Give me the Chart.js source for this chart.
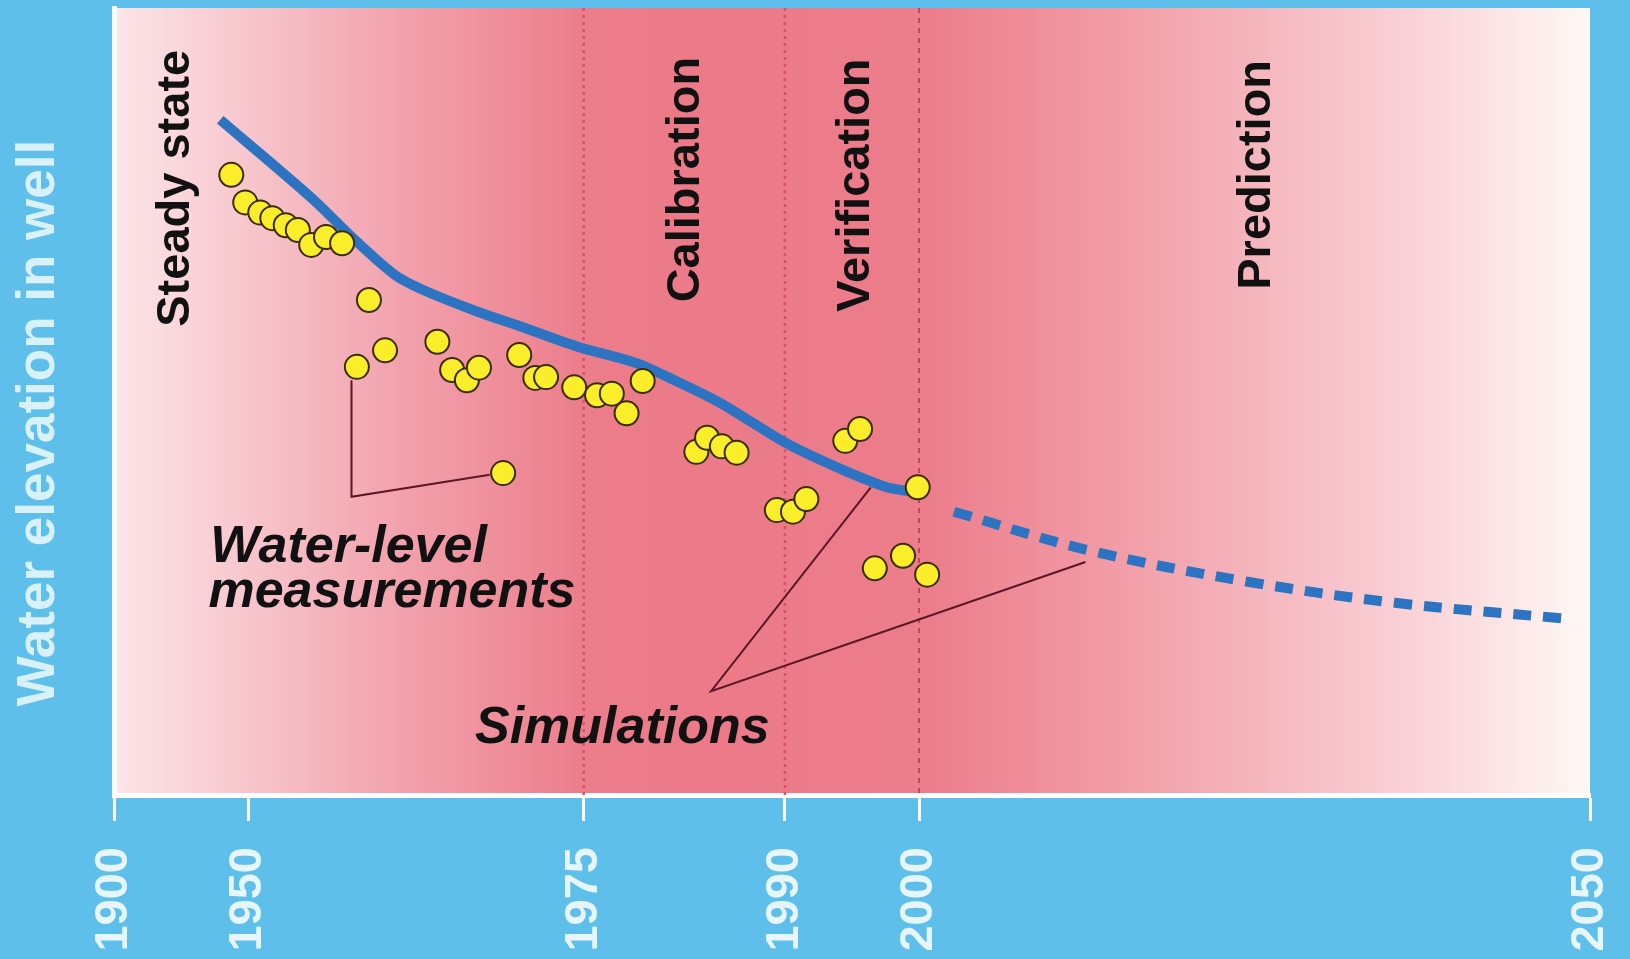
<!DOCTYPE html>
<html>
<head>
<meta charset="utf-8">
<script src="https://cdn.jsdelivr.net/npm/chart.js@4.4.1/dist/chart.umd.min.js"></script>
<style>
  html, body { margin: 0; padding: 0; background: #5EBFEA; }
  #wrap { width: 1630px; height: 959px; }
</style>
</head>
<body>
<div id="wrap"><canvas id="chart"></canvas></div>
<script>
// ------------------------------------------------------------
//  Data (years, relative water elevation 0-100)
// ------------------------------------------------------------
const tickYears = [1900, 1950, 1975, 1990, 2000, 2050];
const phaseYears = [1975, 1990, 2000];

const measYears = [1943.7, 1948.9, 1950.9, 1951.8, 1952.8, 1953.7, 1954.7, 1955.8, 1957.0,
    1959.0, 1958.1, 1960.2, 1964.1, 1965.2, 1966.3, 1967.2, 1970.2, 1971.4, 1972.2,
    1974.3, 1976.0, 1977.1, 1978.2, 1979.4, 1969.0, 1983.4, 1984.2, 1985.3, 1986.4,
    1989.4, 1990.6, 1991.6, 1994.5, 1995.6, 1999.9, 1996.7, 1998.8, 2000.6];
const measLevels = [78.8, 75.3, 74.0, 73.3, 72.4, 71.8, 69.9, 70.9, 70.1,
    62.9, 54.4, 56.5, 57.6, 54.0, 52.7, 54.3, 55.9, 53.0, 53.1,
    51.8, 50.8, 51.0, 48.5, 52.6, 40.9, 43.6, 45.4, 44.3, 43.5,
    36.2, 36.0, 37.6, 45.0, 46.5, 39.1, 28.8, 30.4, 28.0];

const simYears  = [1939.6, 1954.7, 1958.1, 1961.0, 1963.0, 1967.1, 1970.2, 1974.5, 1978.9, 1981.4, 1985.1, 1990.1, 1993.8, 1997.6, 1999.3];
const simLevels = [85.8, 75.9, 70.3, 66.0, 64.2, 61.4, 59.6, 57.0, 54.9, 53.0, 49.9, 44.7, 41.7, 39.1, 38.6];

const predYears  = [2002.6, 2012.6, 2024.5, 2035.6, 2048.2];
const predLevels = [36.0, 31.1, 27.1, 24.4, 22.4];

// leader lines for the two callouts
const measLeaderYears  = [1957.7, 1957.7, 1968.0];
const measLeaderLevels = [52.7, 37.9, 40.7];
const simLeaderYears   = [1996.4, 1984.5, 2012.4];
const simLeaderLevels  = [39.1, 13.2, 29.6];

const phaseLabels = ["Steady state", "Calibration", "Verification", "Prediction"];
const phaseLabelYears = [1923.3, 1982.6, 1995.3, 2025.2];
const phaseLabelLevels = [59.5, 62.6, 61.4, 64.2];

// x axis: 1900-1950 compressed 5:1, linear afterwards
function toAxis(yr) { return yr >= 1950 ? yr - 1950 : (yr - 1950) / 5; }
function pts(xs, ys) { return xs.map((x, i) => ({ x: toAxis(x), y: ys[i] })); }

const FONT = "'Liberation Sans', Arial, Helvetica, sans-serif";

// ------------------------------------------------------------
//  Plugins: background gradient, phase dividers, texts
// ------------------------------------------------------------
const backdrop = {
    id: "backdrop",
    beforeDraw(chart) {
        const { ctx, chartArea: a } = chart;
        ctx.save();
        ctx.fillStyle = "#5EBFEA";
        ctx.fillRect(0, 0, chart.width, chart.height);
        const g = ctx.createLinearGradient(a.left, 0, a.right, 0);
        g.addColorStop(0.00, "#FCE6E8");
        g.addColorStop(0.19, "#F2A3AE");
        g.addColorStop(0.32, "#EC7D8B");
        g.addColorStop(0.40, "#EC7A89");
        g.addColorStop(0.55, "#EC7D8B");
        g.addColorStop(0.67, "#F19AA4");
        g.addColorStop(0.87, "#F9CFD5");
        g.addColorStop(1.00, "#FFF8F4");
        ctx.fillStyle = g;
        ctx.fillRect(a.left, a.top, a.right - a.left, a.bottom - a.top);

        // y axis title
        ctx.translate(39, 423);
        ctx.rotate(-Math.PI / 2);
        ctx.fillStyle = "#D8F1FB";
        ctx.font = `bold 53px ${FONT}`;
        ctx.textAlign = "center";
        ctx.textBaseline = "middle";
        ctx.fillText("Water elevation in well", 0, 0);
        ctx.restore();
    },
    beforeDatasetsDraw(chart) {
        const { ctx, chartArea: a, scales: { x } } = chart;
        ctx.save();
        phaseYears.forEach((yr, i) => {
            const px = x.getPixelForValue(toAxis(yr));
            const last = i === phaseYears.length - 1;
            ctx.strokeStyle = last ? "#B8324A" : "#D9506C";
            ctx.lineWidth = last ? 1.5 : 2.5;
            ctx.setLineDash(last ? [5, 5] : [3, 4]);
            ctx.beginPath();
            ctx.moveTo(px, a.top);
            ctx.lineTo(px, a.bottom);
            ctx.stroke();
        });
        ctx.restore();
    },
    afterDatasetsDraw(chart) {
        const { ctx, scales: { x, y } } = chart;
        ctx.save();
        ctx.fillStyle = "#111";
        ctx.font = `bold 47px ${FONT}`;
        ctx.textAlign = "left";
        ctx.textBaseline = "middle";
        phaseLabels.forEach((t, i) => {
            ctx.save();
            ctx.translate(x.getPixelForValue(toAxis(phaseLabelYears[i])), y.getPixelForValue(phaseLabelLevels[i]));
            ctx.rotate(-Math.PI / 2);
            ctx.fillText(t, 0, 0);
            ctx.restore();
        });

        ctx.font = `italic bold 52px ${FONT}`;
        ctx.textBaseline = "alphabetic";
        const put = (t, yr, v) => ctx.fillText(t, x.getPixelForValue(toAxis(yr)), y.getPixelForValue(v));
        put("Water-level", 1935.9, 29.6);
        put("measurements", 1935.2, 23.9);
        put("Simulations", 1966.9, 6.6);
        ctx.restore();
    },
};

// ------------------------------------------------------------
//  Chart
// ------------------------------------------------------------
const leader = {
    type: "line",
    borderColor: "#5B1724",
    borderWidth: 2,
    pointRadius: 0,
    tension: 0,
};

new Chart(document.getElementById("chart"), {
    type: "scatter",
    data: {
        datasets: [
            {
                label: "Water-level measurements",
                data: pts(measYears, measLevels),
                backgroundColor: "#FAEE2A",
                borderColor: "#3B2C05",
                borderWidth: 2,
                pointRadius: 12,
            },
            {
                label: "Simulation",
                type: "line",
                data: pts(simYears, simLevels),
                borderColor: "#2C73C2",
                borderWidth: 10,
                pointRadius: 0,
                tension: 0.3,
            },
            {
                label: "Prediction",
                type: "line",
                data: pts(predYears, predLevels),
                borderColor: "#2C73C2",
                borderWidth: 10,
                borderDash: [18, 12],
                pointRadius: 0,
                tension: 0.35,
            },
            { ...leader, label: "lead1", data: pts(measLeaderYears, measLeaderLevels) },
            { ...leader, label: "lead2", data: pts(simLeaderYears, simLeaderLevels) },
        ],
    },
    options: {
        responsive: true,
        maintainAspectRatio: false,
        animation: false,
        layout: { autoPadding: false, padding: { top: 8, right: 40, left: 0, bottom: 0 } },
        plugins: {
            legend: { display: false },
            tooltip: { enabled: false },
        },
        scales: {
            x: {
                type: "linear",
                min: toAxis(1900),
                max: toAxis(2050),
                afterBuildTicks: s => { s.ticks = tickYears.map(yr => ({ value: toAxis(yr) })); },
                afterFit: s => {
                    s.height = 164;
                    s.paddingLeft = 0;
                    s.paddingRight = 0;
                },
                grid: {
                    drawOnChartArea: false,
                    drawTicks: true,
                    tickLength: 26,
                    tickColor: "#FFFFFF",
                    tickWidth: 3,
                },
                border: { color: "#FFFFFF", width: 5 },
                ticks: {
                    autoSkip: false,
                    maxRotation: 90,
                    minRotation: 90,
                    padding: 26,
                    color: "#E6F6FC",
                    font: { family: FONT, size: 47, weight: "bold" },
                    callback: (v, i) => tickYears[i],
                },
            },
            y: {
                min: 0,
                max: 100,
                afterFit: s => {
                    s.width = 114;
                    s.paddingTop = 0;
                    s.paddingBottom = 0;
                },
                grid: { display: false },
                ticks: { display: false },
                border: { color: "#FFFFFF", width: 5 },
            },
        },
    },
    plugins: [backdrop],
});
</script>
</body>
</html>
